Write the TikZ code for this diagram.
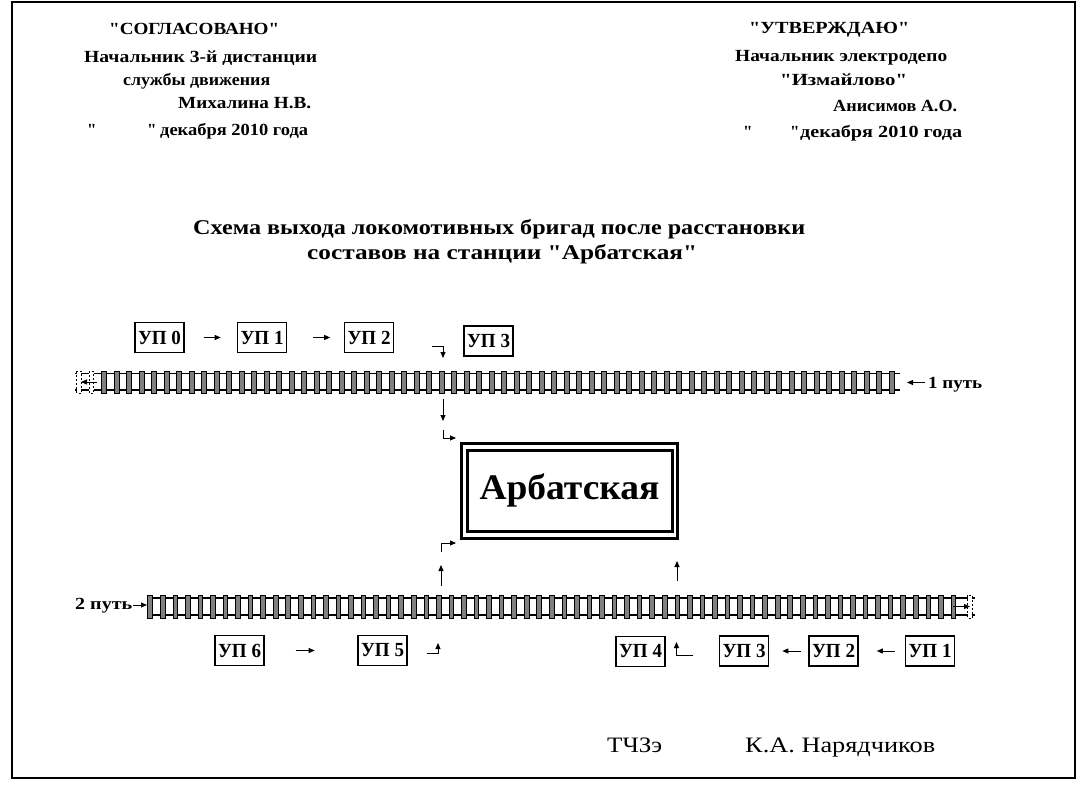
\documentclass[tikz,border=0pt]{standalone}
\usepackage{fontspec}
\usepackage{graphicx}
\setmainfont{Liberation Serif}[Ligatures=TeXOff]
\usetikzlibrary{arrows.meta}
\newcommand{\fitw}[2]{\resizebox{#1}{\height}{#2}}
\newcommand{\q}{\char34}
\begin{document}
\begin{tikzpicture}[x=1pt,y=-1pt,
  hdr/.style={font=\bfseries\fontsize{17}{19}\selectfont, inner sep=0pt, anchor=base west},
  ttl/.style={font=\bfseries\fontsize{21}{23}\selectfont, inner sep=0pt, anchor=base west},
  sig/.style={font=\fontsize{22}{24}\selectfont, inner sep=0pt, anchor=base west},
  upbox/.style={draw, line width=1.4pt, font=\bfseries\fontsize{20}{22}\selectfont, minimum width=49pt, minimum height=30pt, inner sep=0pt},
  arr/.style={-{Triangle[length=6pt,width=5pt]}, line width=0.9pt},
  hook/.style={-{Triangle[length=6pt,width=5pt]}, line width=0.9pt},
  rail/.style={line width=1.7pt},
  sleeper/.style={fill=black!50, draw=black, line width=0.6pt},
  endsl/.style={fill=white, draw=black, dashed, dash pattern=on 2pt off 2pt, line width=0.8pt},
  frame/.style={line width=2pt}
]
\useasboundingbox (0,0) rectangle (1085,789);
\draw[frame] (12,2) rectangle (1075,778);

% header left
\node[hdr] (s1) at (109,35) {\fitw{170pt}{\q СОГЛАСОВАНО\q}};
\node[hdr] (s2) at (84,63) {\fitw{233pt}{Начальник 3-й дистанции}};
\node[hdr] (s3) at (123,86) {\fitw{147pt}{службы движения}};
\node[hdr] (s4) at (178,109) {\fitw{133pt}{Михалина Н.В.}};
\node[hdr] (s5a) at (87,136) {\q};
\node[hdr] (s5b) at (147,136) {\q};
\node[hdr] (s5) at (160,136) {\fitw{148pt}{декабря 2010 года}};
% header right
\node[hdr] (u1) at (749,34) {\fitw{160pt}{\q УТВЕРЖДАЮ\q}};
\node[hdr] (u2) at (735,62) {\fitw{212pt}{Начальник электродепо}};
\node[hdr] (u3) at (780,86) {\fitw{127pt}{\q Измайлово\q}};
\node[hdr] (u4) at (833,112) {\fitw{124pt}{Анисимов А.О.}};
\node[hdr] (u5a) at (743,138) {\q};
\node[hdr] (u5b) at (790,138) {\q};
\node[hdr] (u5) at (800,138) {\fitw{162pt}{декабря 2010 года}};

% title
\node[ttl] (t1) at (193,234) {\fitw{612pt}{Схема выхода локомотивных бригад после расстановки}};
\node[ttl] (t2) at (307,259) {\fitw{390pt}{составов на станции \q Арбатская\q}};

% track 1
\draw[rail] (75,373.5) -- (900,373.5);
\draw[rail] (75,390) -- (900,390);
\foreach \k in {2,...,65} {
  \pgfmathsetmacro{\xx}{79+12.5*\k}
  \draw[sleeper] (\xx-2.3,371) rectangle (\xx+2.3,393);
}
\draw[endsl] (76.7,371) rectangle (81.3,393);
\draw[endsl] (89.2,371) rectangle (93.8,393);
\coordinate (l1a) at (97,382);
\coordinate (l1b) at (81,382);
\draw[arr] (l1a) -- (l1b);

% 1 путь
\node[hdr] (p1) at (928,388) {\fitw{54pt}{1 путь}};
\coordinate (p1a) at (925,382.5);
\coordinate (p1b) at (907,382.5);
\draw[arr] (p1a) -- (p1b);

% track 2
\draw[rail] (147,598) -- (975,598);
\draw[rail] (147,615) -- (975,615);
\foreach \k in {0,...,64} {
  \pgfmathsetmacro{\xx}{150+12.55*\k}
  \draw[sleeper] (\xx-2.3,595) rectangle (\xx+2.3,618);
}
\fill[white] (956,599.5) rectangle (968,613.5);
\draw[endsl] (967.7,595) rectangle (972.3,618);
\coordinate (r2a) at (953,606.5);
\coordinate (r2b) at (970,606.5);
\draw[arr] (r2a) -- (r2b);

% 2 путь
\node[hdr] (p2) at (75,609) {\fitw{57pt}{2 путь}};
\coordinate (p2a) at (133,605);
\coordinate (p2b) at (147,605);
\draw[arr] (p2a) -- (p2b);

% top UP boxes
\node[upbox] (a0) at (159.5,337.5) {\fitw{43pt}{УП 0}};
\node[upbox] (a1) at (262,337.5) {\fitw{43pt}{УП 1}};
\node[upbox] (a2) at (369,337.5) {\fitw{43pt}{УП 2}};
\node[upbox] (a3) at (488.5,341) {\fitw{43pt}{УП 3}};
\draw[arr] ([xshift=19pt]a0.east) -- ([xshift=36pt]a0.east);
\draw[arr] ([xshift=26pt]a1.east) -- ([xshift=43pt]a1.east);
\coordinate (h1a) at (432,346);
\coordinate (h1c) at (443,346);
\coordinate (h1b) at (443,358);
\draw[hook] (h1a) -- (h1c) -- (h1b);

% between track1 and station
\coordinate (d1a) at (443,399);
\coordinate (d1b) at (443,421);
\draw[arr] (d1a) -- (d1b);

% station
\node[draw, line width=3pt, minimum width=216pt, minimum height=95pt, inner sep=0pt] (st) at (569.5,490.5) {};
\node[draw, line width=3pt, minimum width=205pt, minimum height=81pt, inner sep=0pt, font=\bfseries\fontsize{36}{38}\selectfont] (sti) at (569.5,490.5) {\fitw{180pt}{Арбатская}};

\coordinate (L1) at (443,430);
\draw[hook] (L1) |- ([xshift=-4pt]st.west |- 0,438);
\coordinate (G1) at (441,552);
\draw[hook] (G1) |- ([xshift=-4pt]st.west |- 0,543);

% up arrows
\coordinate (u1a) at (441,586);
\coordinate (u1b) at (441,565);
\draw[arr] (u1a) -- (u1b);
\coordinate (u2a) at (677,581);
\coordinate (u2b) at (677,561);
\draw[arr] (u2a) -- (u2b);

% bottom UP boxes
\node[upbox] (b6) at (239.5,650.5) {\fitw{43pt}{УП 6}};
\node[upbox] (b5) at (382.5,650.5) {\fitw{43pt}{УП 5}};
\node[upbox] (b4) at (640.5,651.5) {\fitw{43pt}{УП 4}};
\node[upbox] (b3) at (744,651) {\fitw{43pt}{УП 3}};
\node[upbox] (b2) at (833.5,651) {\fitw{43pt}{УП 2}};
\node[upbox] (b1) at (930,651) {\fitw{43pt}{УП 1}};
\draw[arr] ([xshift=31pt]b6.east) -- ([xshift=50pt]b6.east);
\coordinate (h5a) at (427,653);
\draw[hook] (h5a) -- (438,653) -- (438,643);
\coordinate (h4a) at (693,655);
\draw[hook] (h4a) -- (676.5,655) -- (676.5,642);
\draw[arr] ([xshift=-7pt]b2.west) -- ([xshift=-26pt]b2.west);
\draw[arr] ([xshift=-10pt]b1.west) -- ([xshift=-28pt]b1.west);

% signature
\node[sig] (g1) at (607,752) {\fitw{55pt}{ТЧЗэ}};
\node[sig] (g2) at (745,752) {\fitw{190pt}{К.А. Нарядчиков}};
\end{tikzpicture}
\end{document}
